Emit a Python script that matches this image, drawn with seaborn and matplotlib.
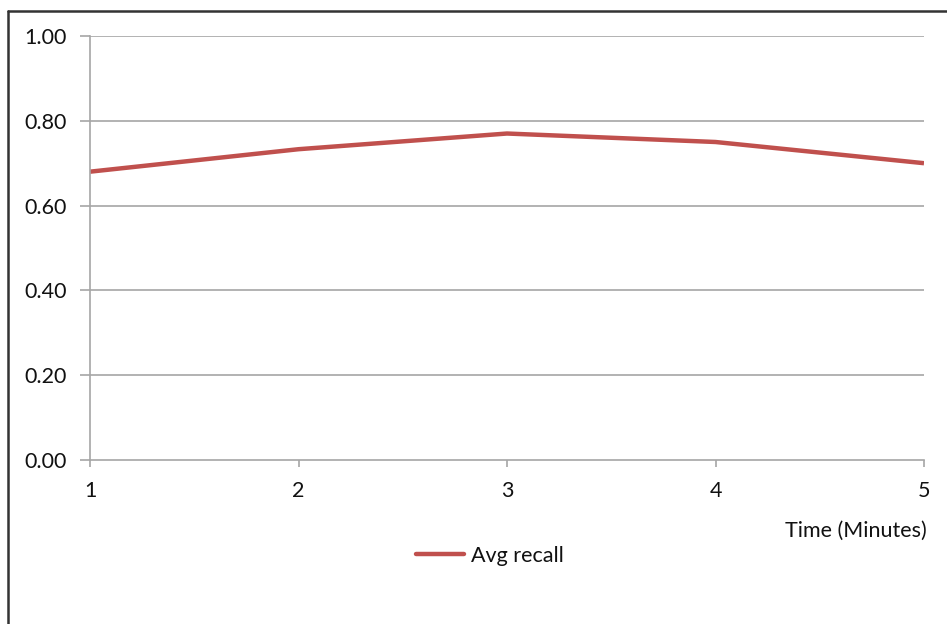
import matplotlib
matplotlib.use("Agg")
import matplotlib.pyplot as plt
import seaborn as sns
import pandas as pd
from matplotlib.lines import Line2D

time_minutes = [1, 2, 3, 4, 5]
avg_recall = [0.68, 0.733, 0.77, 0.75, 0.70]
y_ticks = [0.0, 0.2, 0.4, 0.6, 0.8, 1.0]
y_tick_labels = ["0.00", "0.20", "0.40", "0.60", "0.80", "1.00"]
series_name = "Avg recall"
x_label = "Time (Minutes)"

sns.set_theme(style="white")
plt.rcParams['font.family'] = ['Lato', 'DejaVu Sans']

df = pd.DataFrame({"Time": time_minutes, "Recall": avg_recall, "Series": series_name})

fig = plt.figure(figsize=(9.47, 6.24), dpi=100)
ax = fig.add_axes([90/947, 1-460/624, (924-90)/947, (460-36)/624])

sns.lineplot(data=df, x="Time", y="Recall", color="#c0504d", linewidth=3.2,
             ax=ax, label=series_name, legend=False, solid_capstyle="butt")

grid_c = "#a6a6a6"
txt_c = "#111111"
fs = 15.5
ax.set_xlim(1, 5)
ax.set_ylim(0, 1)
ax.set_yticks(y_ticks)
ax.set_yticklabels(y_tick_labels)
ax.set_xticks(time_minutes)
ax.set_xticklabels([str(t) for t in time_minutes])
for yv in y_ticks[1:]:
    ax.axhline(yv, color=grid_c, linewidth=1.2, zorder=0)
for side in ["top", "right"]:
    ax.spines[side].set_visible(False)
for side in ["left", "bottom"]:
    ax.spines[side].set_color(grid_c)
    ax.spines[side].set_linewidth(1.2)
ax.tick_params(axis="y", which="major", direction="out", length=7, width=1.2, color=grid_c,
               labelsize=fs, labelcolor=txt_c, pad=10, left=True)
ax.tick_params(axis="x", which="major", direction="out", length=5, width=1.2, color=grid_c,
               labelsize=fs, labelcolor=txt_c, pad=10, bottom=True)
ax.set_xlabel("")
ax.set_ylabel("")

fig.text(927/947, 1-531/624, x_label, ha="right", va="center", fontsize=fs, color=txt_c)

handle = Line2D([], [], color="#c0504d", linewidth=3.2)
fig.legend([handle], [series_name], loc="center", bbox_to_anchor=(490/947, 1-556/624),
           frameon=False, fontsize=fs, handlelength=2.2, handletextpad=0.35,
           labelcolor=txt_c, borderpad=0, borderaxespad=0)

# figure border (left and top)
fig.add_artist(Line2D([8/947, 8/947], [0, 1-11/624], color="#333333", linewidth=1.8,
                      transform=fig.transFigure))
fig.add_artist(Line2D([8/947, 1], [1-11/624, 1-11/624], color="#333333", linewidth=1.8,
                      transform=fig.transFigure))

fig.savefig("out.png", dpi=100, facecolor="white")
